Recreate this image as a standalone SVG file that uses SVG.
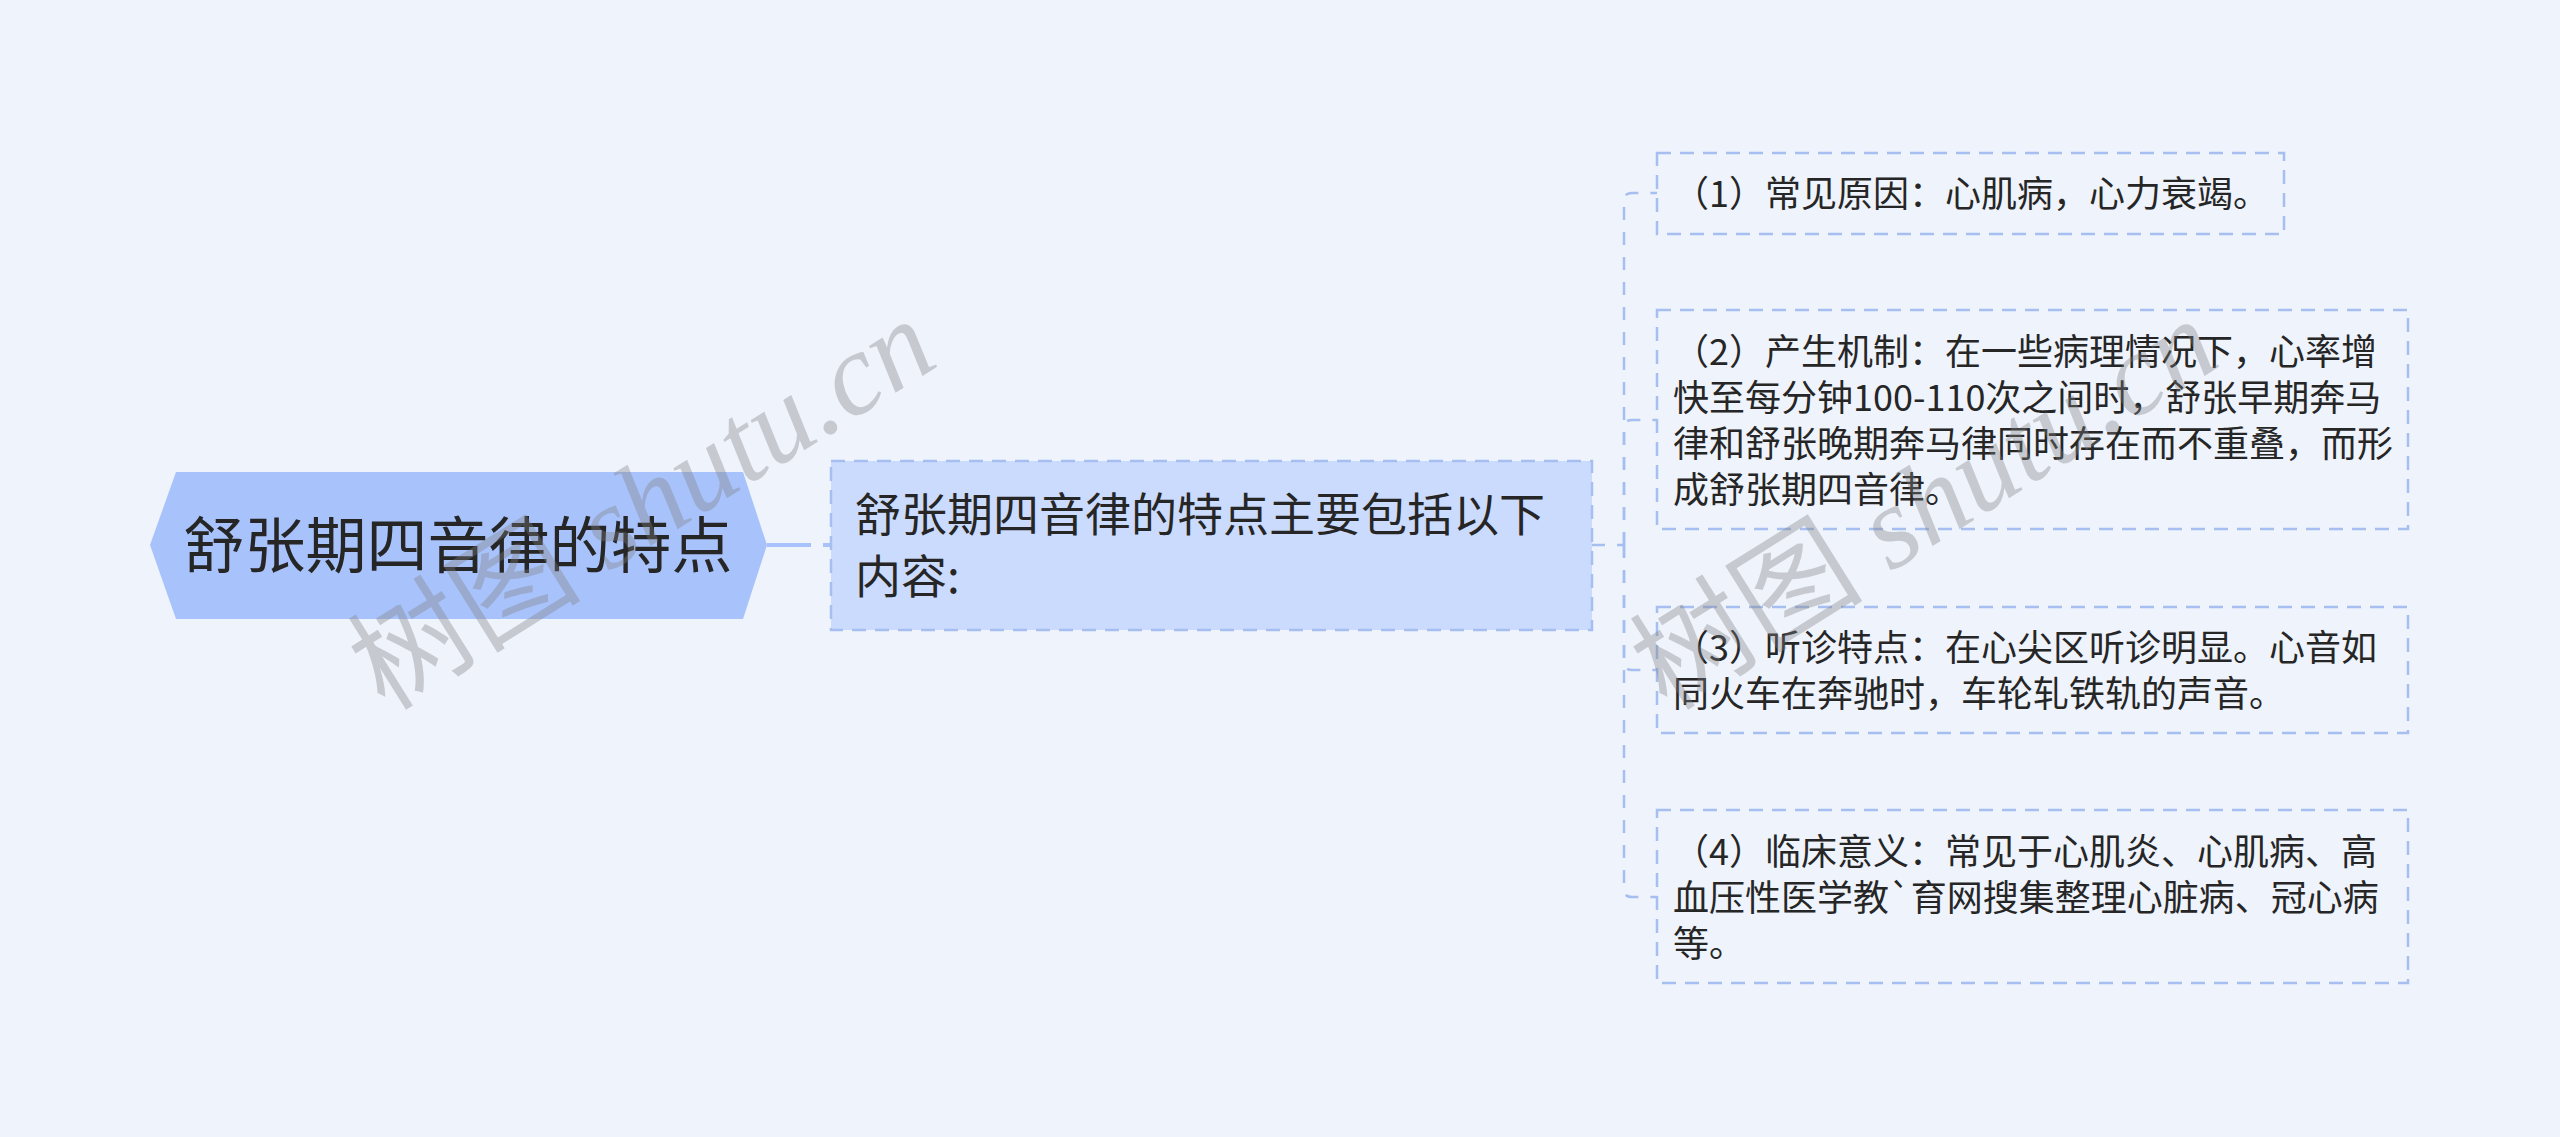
<svg xmlns="http://www.w3.org/2000/svg" width="2560" height="1137" viewBox="0 0 2560 1137">
<style>
.bg{fill:#eef3fc}
.t{font-family:"Noto Sans CJK SC","Noto Sans",sans-serif;fill:#262626}
.root{fill:#a8c3fb}
.main{fill:#cbdbfd;stroke:#a6bef0;stroke-width:2.5;stroke-dasharray:14 9}
.child{fill:#eef3fc;stroke:#a6bef0;stroke-width:2.5;stroke-dasharray:14 9}
.conn{fill:none;stroke:#a6bef0;stroke-width:2.5;stroke-dasharray:13 12}
.wm{font-size:117px;fill:#808080;fill-opacity:0.36}
</style>
<rect class="bg" x="0" y="0" width="2560" height="1137"/>
<g id="connectors">
<path d="M767,545 H831" fill="none" stroke="#a8c3fb" stroke-width="4" stroke-dasharray="44 12"/>
<path class="conn" d="M1592,545 H1624"/>
<path class="conn" d="M1624,545 V201 Q1624,193 1632,193 H1657"/>
<path class="conn" d="M1624,545 V428 Q1624,420 1632,420 H1657"/>
<path class="conn" d="M1624,545 V662 Q1624,670 1632,670 H1657"/>
<path class="conn" d="M1624,545 V889 Q1624,897 1632,897 H1657"/>
</g>
<g id="root">
<polygon class="root" points="150,545 176,472 743,472 767,545 743,619 176,619"/>
<text class="t" x="458" y="568" font-size="61" text-anchor="middle">舒张期四音律的特点</text>
</g>
<g id="main">
<rect class="main" x="831" y="461" width="761" height="169"/>
<text class="t" font-size="46"><tspan x="855" y="531">舒张期四音律的特点主要包括以下</tspan><tspan x="855" y="593">内容:</tspan></text>
</g>
<g id="child1">
<rect class="child" x="1657" y="153" width="627" height="81"/>
<text class="t" x="1673" y="207" font-size="36">（1）常见原因：心肌病，心力衰竭。</text>
</g>
<g id="child2">
<rect class="child" x="1657" y="310" width="751" height="219"/>
<text class="t" font-size="36"><tspan x="1673" y="365">（2）产生机制：在一些病理情况下，心率增</tspan><tspan x="1673" y="411">快至每分钟100-110次之间时，舒张早期奔马</tspan><tspan x="1673" y="457">律和舒张晚期奔马律同时存在而不重叠，而形</tspan><tspan x="1673" y="503">成舒张期四音律。</tspan></text>
</g>
<g id="child3">
<rect class="child" x="1657" y="607" width="751" height="126"/>
<text class="t" font-size="36"><tspan x="1673" y="661">（3）听诊特点：在心尖区听诊明显。心音如</tspan><tspan x="1673" y="707">同火车在奔驰时，车轮轧铁轨的声音。</tspan></text>
</g>
<g id="child4">
<rect class="child" x="1657" y="810" width="751" height="173"/>
<text class="t" font-size="36"><tspan x="1673" y="865">（4）临床意义：常见于心肌炎、心肌病、高</tspan><tspan x="1673" y="911">血压性医学教`育网搜集整理心脏病、冠心病</tspan><tspan x="1673" y="957">等。</tspan></text>
</g>
<g id="watermarks">
<text class="wm" transform="translate(385,712) rotate(-32)"><tspan font-family="Noto Sans CJK SC,sans-serif">树图</tspan><tspan font-family="Liberation Serif,serif" font-style="italic"> shutu.cn</tspan></text>
<text class="wm" transform="translate(1667,712) rotate(-32)"><tspan font-family="Noto Sans CJK SC,sans-serif">树图</tspan><tspan font-family="Liberation Serif,serif" font-style="italic"> shutu.cn</tspan></text>
</g>
</svg>
